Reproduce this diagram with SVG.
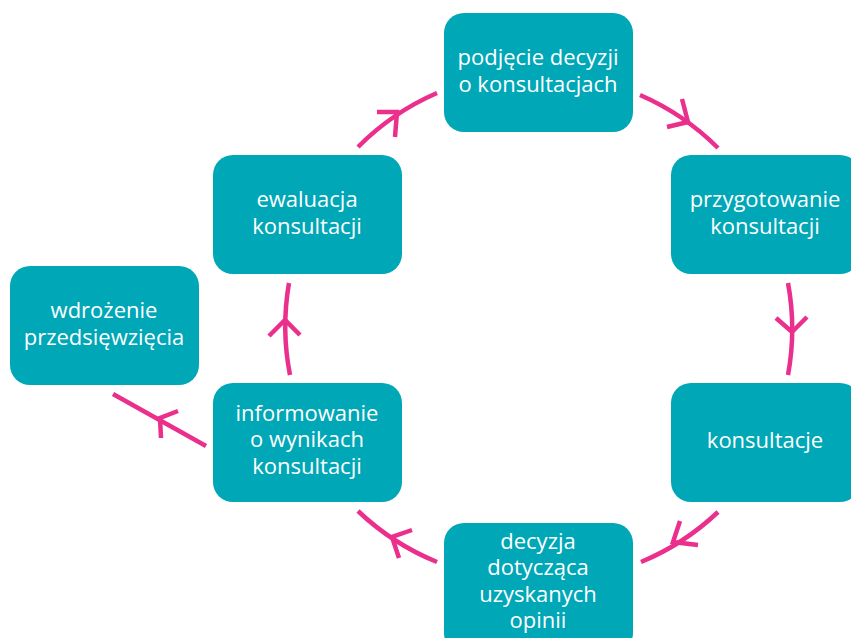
<svg xmlns="http://www.w3.org/2000/svg" width="851" height="638" viewBox="0 0 851 638">
<style>
.box{fill:#00A7B7}
.t{fill:#fff;font-family:"Open Sans","Noto Sans",sans-serif;font-size:22px;text-anchor:middle}
.c{fill:none;stroke:#EA2F8C;stroke-width:4.5;stroke-linecap:butt;stroke-linejoin:miter}
</style>
<rect width="851" height="638" fill="#fff"/>
<g id="connectors">
<path class="c" d="M358,147 A253,253 0 0 1 437,93"/>
<polyline class="c" points="377,112 397,112 395,137"/>
<path class="c" d="M640,95 A253,253 0 0 1 718,148"/>
<polyline class="c" points="682,99 688,122 667,127"/>
<path class="c" d="M788,283 A253,253 0 0 1 788,375"/>
<polyline class="c" points="776,318 792,332 807,317"/>
<path class="c" d="M718,512 A253,253 0 0 1 641,562"/>
<polyline class="c" points="680,521 673,542 698,545"/>
<path class="c" d="M437,562 A253,253 0 0 1 358,511"/>
<polyline class="c" points="412,530 392,537 399,558"/>
<path class="c" d="M290,375 A253,253 0 0 1 289,283"/>
<polyline class="c" points="269,336 285,320 300,335"/>
<path class="c" d="M206,446 L113,394"/>
<polyline class="c" points="178,411 160,418 161,438"/>
</g>
<g id="n1"><rect class="box" x="444" y="13" width="189" height="119" rx="20"/>
<text class="t" x="538" y="65">podjęcie decyzji</text><text class="t" x="538" y="92">o konsultacjach</text></g>
<g id="n2"><rect class="box" x="671" y="155" width="189" height="119" rx="20"/>
<text class="t" x="765" y="207">przygotowanie</text><text class="t" x="765" y="234">konsultacji</text></g>
<g id="n3"><rect class="box" x="671" y="383" width="189" height="119" rx="20"/>
<text class="t" x="765" y="448">konsultacje</text></g>
<g id="n4"><rect class="box" x="444" y="523" width="189" height="130" rx="20"/>
<text class="t" x="538" y="549">decyzja</text><text class="t" x="538" y="575">dotycząca</text><text class="t" x="538" y="602">uzyskanych</text><text class="t" x="538" y="628">opinii</text></g>
<g id="n5"><rect class="box" x="213" y="383" width="189" height="119" rx="20"/>
<text class="t" x="307" y="421">informowanie</text><text class="t" x="307" y="447">o wynikach</text><text class="t" x="307" y="474">konsultacji</text></g>
<g id="n6"><rect class="box" x="213" y="155" width="189" height="119" rx="20"/>
<text class="t" x="307" y="207">ewaluacja</text><text class="t" x="307" y="234">konsultacji</text></g>
<g id="n7"><rect class="box" x="10" y="266" width="189" height="119" rx="20"/>
<text class="t" x="104" y="318">wdrożenie</text><text class="t" x="104" y="345">przedsięwzięcia</text></g>
</svg>
